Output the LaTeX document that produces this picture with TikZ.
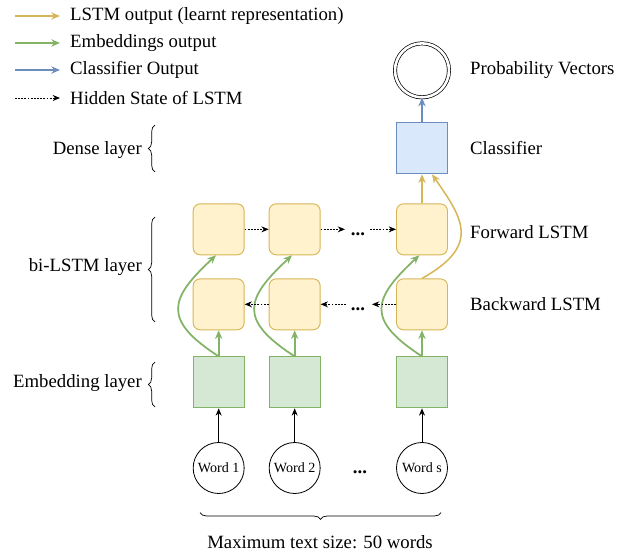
\documentclass[tikz,border=0pt]{standalone}
\usepackage{fontspec}
\setmainfont{Liberation Serif}
\newfontfamily\tnrfont{Liberation Serif}
\usetikzlibrary{arrows.meta,decorations.pathreplacing}
\definecolor{lstmfill}{HTML}{FFF2CC}\definecolor{lstmline}{HTML}{D6B656}
\definecolor{embfill}{HTML}{D5E8D4}\definecolor{embline}{HTML}{82B366}
\definecolor{clsfill}{HTML}{DAE8FC}\definecolor{clsline}{HTML}{6C8EBF}
\tikzset{
  box/.style={draw, minimum width=1.53cm, minimum height=1.53cm, inner sep=0pt, line width=0.8pt},
  klstm/.style={box, rounded corners=6pt, fill=lstmfill, draw=lstmline},
  kemb/.style={box, fill=embfill, draw=embline},
  kcls/.style={box, fill=clsfill, draw=clsline},
  kword/.style={draw, circle, minimum size=1.53cm, inner sep=0pt, line width=0.7pt, font=\tnrfont\fontsize{12}{14}\selectfont},
  kprob/.style={draw, circle, minimum size=1.62cm, double, double distance=2.2pt, line width=0.6pt},
  lbl/.style={font=\tnrfont\fontsize{16}{19}\selectfont, inner sep=0pt},
  dots/.style={font=\tnrfont\fontsize{16}{19}\selectfont\bfseries, inner sep=0pt},
  yflow/.style={-{Stealth[length=2.6mm, width=2.2mm]}, line width=1.3pt, draw=lstmline},
  gflow/.style={-{Stealth[length=2.6mm, width=2.2mm]}, line width=1.5pt, draw=embline},
  bflow/.style={-{Stealth[length=2.6mm, width=2.2mm]}, line width=1.3pt, draw=clsline},
  kflow/.style={-{Stealth[length=2.2mm, width=1.8mm]}, line width=0.8pt},
  hidden/.style={-{Stealth[length=2.2mm, width=1.8mm]}, line width=0.8pt, dash pattern=on 1.5pt off 1.2pt},
  lbrace/.style={decorate, decoration={brace, amplitude=0.2cm}, line width=0.6pt},
}

\begin{document}
\begin{tikzpicture}
    \useasboundingbox (0,0) rectangle (18.99,16.62);
    % legend
    \node[lbl, anchor=west] (legy) at (2.10,16.14) {LSTM output (learnt representation)};
    \node[lbl, anchor=west] (legg) at (2.10,15.33) {Embeddings output};
    \node[lbl, anchor=west] (legb) at (2.10,14.52) {Classifier Output};
    \node[lbl, anchor=west] (legk) at (2.10,13.68) {Hidden State of LSTM};
    \coordinate (ly) at (0.45,16.14);
    \coordinate (lg) at (0.45,15.33);
    \coordinate (lb) at (0.45,14.52);
    \coordinate (lk) at (0.45,13.68);
    \draw[yflow] (ly) -- ++(1.35,0);
    \draw[gflow] (lg) -- ++(1.35,0);
    \draw[bflow] (lb) -- ++(1.35,0);
    \draw[hidden] (lk) -- ++(1.35,0);
    % nodes
    \node[kprob] (prob) at (12.66,14.51) {};
    \node[kcls] (cls) at (12.66,12.17) {};
    \node[klstm] (fwd1) at (6.56,9.74) {};
    \node[klstm] (fwd2) at (8.84,9.74) {};
    \node[klstm] (fwd3) at (12.66,9.74) {};
    \node[klstm] (bwd1) at (6.56,7.49) {};
    \node[klstm] (bwd2) at (8.84,7.49) {};
    \node[klstm] (bwd3) at (12.66,7.49) {};
    \node[kemb] (emb1) at (6.56,5.15) {};
    \node[kemb] (emb2) at (8.84,5.15) {};
    \node[kemb] (emb3) at (12.66,5.15) {};
    \node[kword] (word1) at (6.56,2.58) {Word 1};
    \node[kword] (word2) at (8.84,2.58) {Word 2};
    \node[kword] (word3) at (12.66,2.58) {Word s};
    \node[dots] (dotf) at (10.74,9.60) {...};
    \node[dots] (dotb) at (10.74,7.35) {...};
    \node[dots] (dotw) at (10.80,2.44) {...};
    % right labels
    \node[lbl, anchor=west] (tprob) at (14.10,14.52) {Probability Vectors};
    \node[lbl, anchor=west] (tcls) at (14.10,12.18) {Classifier};
    \node[lbl, anchor=west] (tfwd) at (14.10,9.66) {Forward LSTM};
    \node[lbl, anchor=west] (tbwd) at (14.10,7.50) {Backward LSTM};
    % left labels and braces
    \node[lbl, anchor=east] (tdense) at (4.26,12.12) {Dense layer};
    \node[lbl, anchor=east] (tbi) at (4.26,8.61) {bi-LSTM layer};
    \node[lbl, anchor=east] (temb) at (4.26,5.13) {Embedding layer};
    \draw[lbrace] (4.65,11.46) -- (4.65,12.87);
    \draw[lbrace] (4.65,6.96) -- (4.65,10.11);
    \draw[lbrace] (4.65,4.41) -- (4.65,5.76);
    \draw[lbrace] (13.23,1.24) -- (6.00,1.24);
    \node[lbl] (tmax) at (9.60,0.36) {Maximum text size: 50 words};
    % words to embeddings
    \draw[kflow] (word1) -- (emb1);
    \draw[kflow] (word2) -- (emb2);
    \draw[kflow] (word3) -- (emb3);
    % embeddings to lstm
    \foreach \i in {1,2,3} {
      \draw[gflow] (emb\i.north) -- (bwd\i.south);
      \draw[gflow] (emb\i.north) .. controls +(-1.7,1.1) and +(-1.4,-1.3) .. ([xshift=-0.08cm]fwd\i.south);
    }
    % hidden states
    \coordinate (hf1) at (10.35,9.74);
    \coordinate (hf2) at (11.10,9.74);
    \coordinate (hb1) at (10.38,7.49);
    \coordinate (hb2) at (11.16,7.49);
    \draw[hidden] (fwd1) -- (fwd2);
    \draw[hidden] (fwd2) -- (hf1);
    \draw[hidden] (hf2) -- (fwd3);
    \draw[hidden] (bwd2) -- (bwd1);
    \draw[hidden] (hb1) -- (bwd2);
    \draw[hidden] (bwd3) -- (hb2);
    % lstm to classifier
    \draw[yflow] (fwd3) -- (cls);
    \draw[yflow] (bwd3.north) .. controls +(1.8,1.0) and +(0.9,-1.3) .. ([xshift=0.3cm]cls.south);
    \draw[bflow] (cls) -- (prob);
  \end{tikzpicture}
\end{document}
